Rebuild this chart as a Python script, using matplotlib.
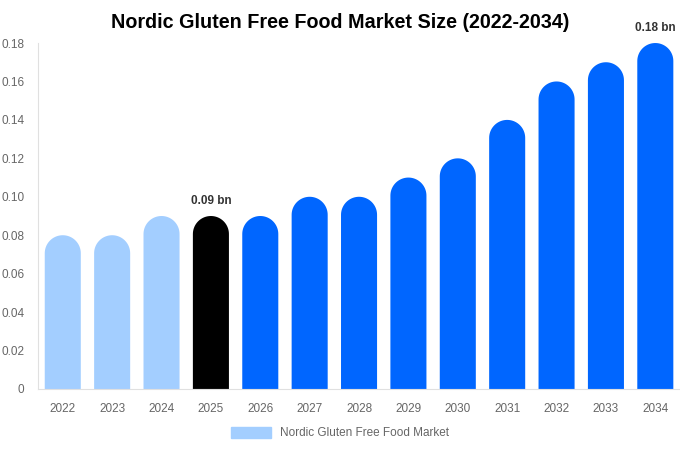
import matplotlib
matplotlib.use("Agg")
import numpy as np
import matplotlib.pyplot as plt
from matplotlib.patches import Polygon, Patch

plt.rcParams["font.family"] = ["Liberation Sans", "DejaVu Sans"]

years = ["2022", "2023", "2024", "2025", "2026", "2027", "2028",
         "2029", "2030", "2031", "2032", "2033", "2034"]
values = [0.08, 0.08, 0.09, 0.09, 0.09, 0.10, 0.10,
          0.11, 0.12, 0.14, 0.16, 0.17, 0.18]
colors = ["#a3ceff"] * 3 + ["#000000"] + ["#0066ff"] * 9
labels = {3: "0.09 bn", 12: "0.18 bn"}

fig = plt.figure(figsize=(6.8, 4.5), dpi=100)
ax = fig.add_axes([0.056, 0.1356, 0.944, 0.7688])
ax.set_xlim(-0.5, len(years) - 0.5)
ax.set_ylim(0, 0.18)

bw = 0.73
# cap radius in y data units so the rounded top stays circular
fig.canvas.draw()
bbox = ax.get_window_extent()
px_per_x = bbox.width / len(years)
px_per_y = bbox.height / 0.18
rh = (bw * px_per_x / 2) / px_per_y
t = np.linspace(0, np.pi, 40)

for i, (v, c) in enumerate(zip(values, colors)):
    top = v - rh
    arc = np.column_stack([i + bw / 2 * np.cos(t), top + rh * np.sin(t)])
    pts = np.vstack([[i + bw / 2, 0], arc, [i - bw / 2, 0]])
    ax.add_patch(Polygon(pts, closed=True, facecolor=c, edgecolor="none"))
    if i in labels:
        ax.text(i, v + 0.0045, labels[i], ha="center", va="bottom",
                fontsize=8.5, fontweight="bold", color="#333333")

ax.set_xticks(range(len(years)))
ax.set_xticklabels(years)
ax.set_yticks([0, 0.02, 0.04, 0.06, 0.08, 0.10, 0.12, 0.14, 0.16, 0.18])
ax.set_yticklabels(["0", "0.02", "0.04", "0.06", "0.08", "0.10", "0.12",
                    "0.14", "0.16", "0.18"])
ax.tick_params(axis="both", length=0, colors="#666666", labelsize=8.5)
ax.tick_params(axis="x", pad=10)
ax.tick_params(axis="y", pad=10)
for s in ["top", "right"]:
    ax.spines[s].set_visible(False)
ax.spines["left"].set_color("#e0e0e0")
ax.spines["bottom"].set_color("#e0e0e0")

fig.suptitle("Nordic Gluten Free Food Market Size (2022-2034)", x=0.5, y=0.97,
             fontsize=14.2, fontweight="bold", color="#000000")

fig.legend(handles=[Patch(color="#a3ceff", label="Nordic Gluten Free Food Market")],
           loc="lower center", bbox_to_anchor=(0.5, 0.0), frameon=False,
           fontsize=8.5, labelcolor="#666666", handlelength=3.4, handleheight=1.0)

fig.savefig("out.png", dpi=100)
